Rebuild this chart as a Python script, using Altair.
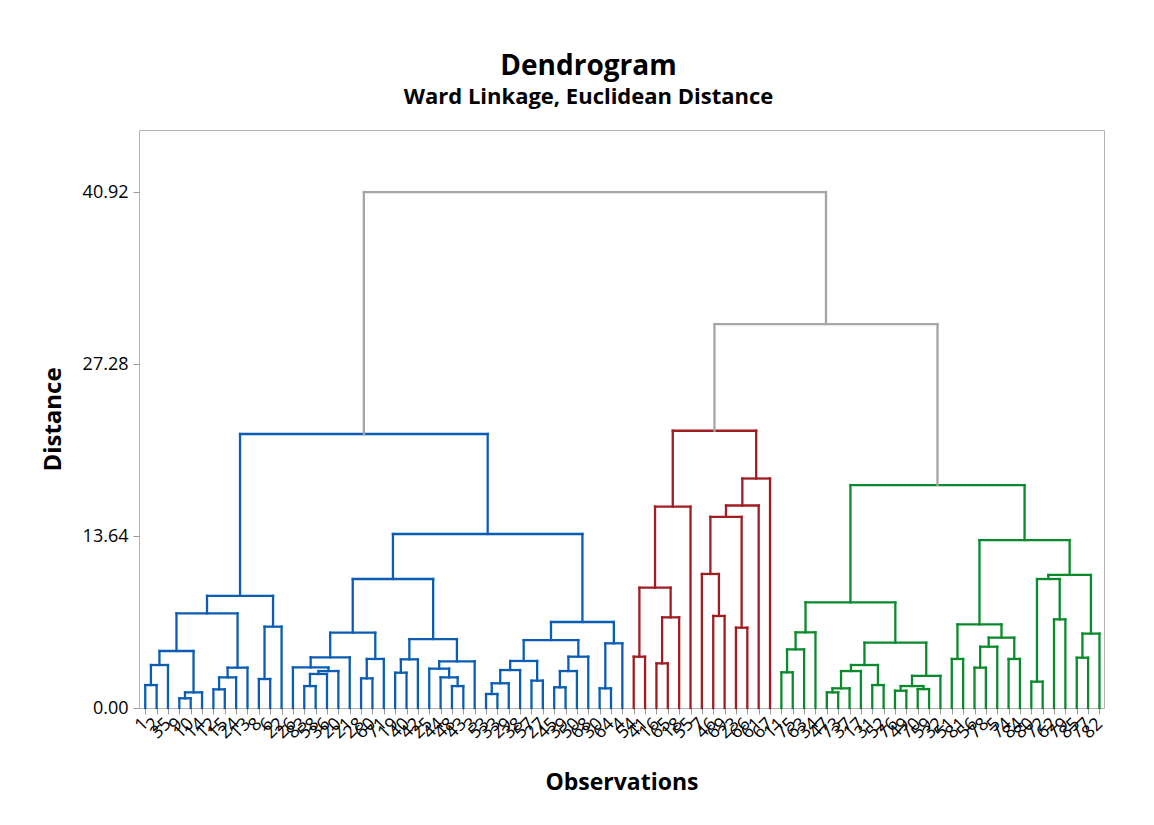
import json
import altair as alt
import pandas as pd

# ---------------- data ----------------
leaf_labels = [1, 2, 35, 9, 10, 14, 12, 15, 24, 13, 8, 6, 22, 26, 83, 58, 36, 20, 21, 28,
               60, 71, 19, 40, 42, 25, 44, 48, 43, 3, 53, 33, 29, 38, 57, 27, 45, 39, 50, 68,
               30, 64, 4, 54, 41, 16, 65, 18, 55, 7, 46, 69, 23, 66, 61, 67, 11, 75, 63, 34,
               47, 73, 37, 17, 31, 52, 76, 49, 70, 59, 32, 51, 81, 56, 78, 5, 74, 84, 80, 72,
               62, 79, 85, 77, 82]

merge_names = ["b1", "b2", "b3", "b4", "b5", "b6", "b7", "b8", "b9", "b10", "b11", "b12",
               "b13", "b14", "b15", "b16", "b17", "b18", "b19", "b20", "b21", "b22", "b23",
               "b24", "b25", "b26", "b27", "b28", "b29", "b30", "b31", "b32", "b33", "b34",
               "b35", "b36", "b37", "b38", "b39", "b40", "b41", "b42",
               "r1", "r2", "r3", "r4", "r5", "r6", "r7", "r8", "r9", "r10", "r11", "r12",
               "g1", "g2", "g3", "g4", "g5", "g6", "g7", "g8", "g9", "g10", "g11", "g12",
               "g13", "g14", "g15", "g16", "g17", "g18", "g19", "g20", "g21", "g22", "g23",
               "g24", "g25", "g26", "g27", "g28",
               "t1", "t2"]
merge_left = [0, "b1", 3, "b3", "b2", 6, "b6", "b7", "b5", 10, "b10", "b9",
              14, "b13", "b14", 13, "b16", 19, "b18", "b17", 22, "b21", 27,
              26, 25, "b25", "b22", "b20", 30, "b29", "b30", 34, "b31", 36,
              "b34", "b35", "b33", 40, "b38", "b37", "b28", "b12",
              43, 45, "r2", "r1", "r4", 50, 49, 52, "r7", "r9", "r10", "r5",
              56, "g1", "g2", 60, "g4", "g5", 64, "g6", 66, 68, "g9", "g11",
              "g8", "g3", 71, 73, "g16", 76, "g17", "g15", 78, 80, "g21",
              82, "g24", "g23", "g20", "g14",
              "r12", "b42"]
merge_right = [1, 2, 4, 5, "b4", 7, 8, 9, "b8", 11, 12, "b11",
               15, 16, 17, "b15", 18, 20, 21, "b19", 23, 24, 28,
               "b23", "b24", 29, "b26", "b27", 31, 32, 33, 35, "b32", 37,
               38, 39, "b36", 41, 42, "b39", "b40", "b41",
               44, 46, 47, "r3", 48, 51, "r6", 53, "r8", 54, 55, "r11",
               57, 58, 59, 61, 62, 63, 65, "g7", 67, 69, "g10", 70,
               "g12", "g13", 72, 74, 75, 77, "g18", "g19", 79, 81, "g22",
               83, 84, "g25", "g26", "g27",
               "g28", "t1"]
merge_height = [1.82, 3.41, 0.77, 1.24, 4.52, 1.48, 2.43, 3.20, 7.51, 2.30, 6.45, 8.90,
                1.74, 2.70, 2.93, 3.22, 4.02, 2.35, 3.89, 5.97, 2.80, 3.86, 1.74,
                2.43, 3.12, 3.70, 5.47, 10.23, 1.11, 1.96, 3.01, 2.17, 3.73, 1.64,
                2.93, 4.07, 5.39, 1.56, 5.13, 6.82, 13.80, 21.73,
                4.07, 3.54, 7.19, 9.54, 15.97, 7.30, 10.63, 6.37, 15.16, 16.06, 18.20, 21.99,
                2.83, 4.65, 6.00, 1.24, 1.56, 2.93, 1.82, 3.41, 1.37, 1.50, 1.74, 2.55,
                5.18, 8.38, 3.89, 3.20, 4.86, 3.89, 5.58, 6.63, 2.09, 7.03, 10.23,
                3.99, 5.90, 10.55, 13.32, 17.68,
                30.45, 40.92]
merge_group = ["Cluster 1"] * 42 + ["Cluster 2"] * 12 + ["Cluster 3"] * 28 + ["Joined"] * 2

y_ticks = [0.0, 13.64, 27.28, 40.92]
group_names = ["Cluster 1", "Cluster 2", "Cluster 3", "Joined"]
group_colors = ["#0b5db3", "#a11d21", "#0a8a2c", "#a6a6a6"]

# ---------------- build segments ----------------
pos = {i: float(i) for i in range(len(leaf_labels))}
hgt = {i: 0.0 for i in range(len(leaf_labels))}
rows = []
for name, l, r, h, g in zip(merge_names, merge_left, merge_right, merge_height, merge_group):
    xl, xr = pos[l], pos[r]
    rows.append(dict(x=xl, x2=xl, y=hgt[l], y2=h, g=g))
    rows.append(dict(x=xr, x2=xr, y=hgt[r], y2=h, g=g))
    rows.append(dict(x=xl, x2=xr, y=h, y2=h, g=g))
    pos[name] = (xl + xr) / 2.0
    hgt[name] = h
seg = pd.DataFrame(rows)

label_js = json.dumps([str(v) for v in leaf_labels])
FONT = "Open Sans"

chart = alt.Chart(seg).mark_rule(strokeWidth=2.3, strokeCap="square").encode(
    x=alt.X("x:Q",
            scale=alt.Scale(domain=[-0.55, 84.4], nice=False, zero=False),
            axis=alt.Axis(title="Observations", values=list(range(len(leaf_labels))),
                          labelExpr=f"{label_js}[datum.value]",
                          labelAngle=-45, labelAlign="right", labelBaseline="middle",
                          labelFontSize=18, labelColor="#000000", labelOverlap=False,
                          labelPadding=7, labelBound=False, labelFlush=False,
                          tickColor="#9a9a9a", tickSize=6, domain=False, grid=False,
                          titleFontSize=23, titleFontWeight="bold", titleColor="#000000",
                          titlePadding=30)),
    x2="x2:Q",
    y=alt.Y("y:Q",
            scale=alt.Scale(domain=[0, 45.84], nice=False, zero=True),
            axis=alt.Axis(title="Distance", values=y_ticks, format=".2f",
                          labelFontSize=18, labelColor="#000000", labelPadding=5,
                          tickColor="#9a9a9a", tickSize=6, domain=False, grid=False,
                          titleFontSize=24, titleFontWeight="bold", titleColor="#000000",
                          titlePadding=17)),
    y2="y2:Q",
    color=alt.Color("g:N", scale=alt.Scale(domain=group_names, range=group_colors),
                    legend=None),
).properties(
    width=965,
    height=578,
    title=alt.TitleParams(text="Dendrogram", subtitle="Ward Linkage, Euclidean Distance",
                          anchor="middle", dx=-33, offset=22, fontSize=28,
                          fontWeight="bold", color="#000000", subtitleFontSize=22,
                          subtitleFontWeight="bold", subtitleColor="#000000",
                          subtitlePadding=6, font=FONT, subtitleFont=FONT),
    autosize=alt.AutoSizeParams(type="none"),
    padding={"left": 131, "top": 122, "right": 42, "bottom": 105},
).configure(
    font=FONT,
).configure_view(
    stroke="#b3b3b3", strokeWidth=1,
).configure_axis(
    labelFont=FONT, titleFont=FONT,
)

chart.save("out.html", embed_options={"renderer": "svg", "actions": False})
